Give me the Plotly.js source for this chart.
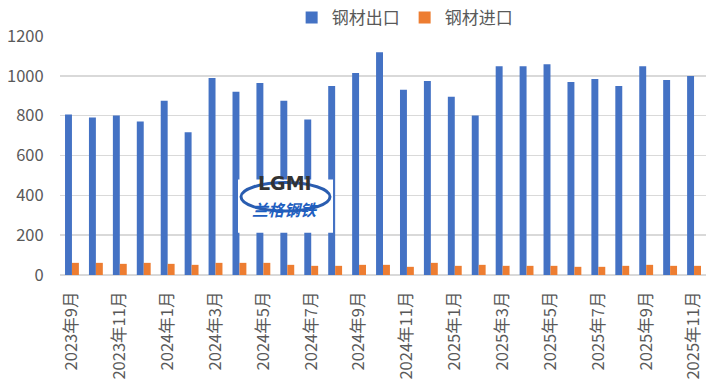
<!DOCTYPE html>
<html><head><meta charset="utf-8">
<script src="https://cdn.plot.ly/plotly-3.0.1.min.js"></script>
<style>html,body{margin:0;padding:0;background:#fff}#c{width:720px;height:387px}</style>
</head><body><div id="c"></div>
<script>
const months = ["2023年9月","2023年10月","2023年11月","2023年12月","2024年1月","2024年2月","2024年3月","2024年4月","2024年5月","2024年6月","2024年7月","2024年8月","2024年9月","2024年10月","2024年11月","2024年12月","2025年1月","2025年2月","2025年3月","2025年4月","2025年5月","2025年6月","2025年7月","2025年8月","2025年9月","2025年10月","2025年11月"];
const exportVals = [806,791,801,771,875,717,989,920,964,875,781,949,1014,1118,930,974,895,801,1048,1048,1058,969,984,949,1048,979,999];
const importVals = [61,61,56,61,56,51,61,61,61,51,46,46,51,51,41,61,46,51,46,46,46,41,41,46,51,46,46];
const tickLabels = ["2023年9月","2023年11月","2024年1月","2024年3月","2024年5月","2024年7月","2024年9月","2024年11月","2025年1月","2025年3月","2025年5月","2025年7月","2025年9月","2025年11月"];
const F = '"Noto Sans CJK SC", "Noto Sans", sans-serif';
const data = [
 {type:'bar', name:'钢材出口', x:months, y:exportVals, marker:{color:'#4472C4'}},
 {type:'bar', name:'钢材进口', x:months, y:importVals, marker:{color:'#ED7D31'}}
];
const L = 60, R = 14, T = 32, B = 112, PW = 720-L-R, PH = 387-T-B;
const px = v => (v-L)/PW, py = v => (387-B-v)/PH;
const layout = {
 width:720, height:387, margin:{l:L,r:R,t:T,b:B},
 paper_bgcolor:'#fff', plot_bgcolor:'#fff',
 font:{family:F, color:'#595959', size:16},
 barmode:'group', bargap:0.42, bargroupgap:0,
 showlegend:true,
 legend:{orientation:'h', xref:'container', yref:'container', x:0.562, xanchor:'center', y:1, yanchor:'top', font:{size:17,color:'#595959'}, itemwidth:20, traceorder:'normal', bgcolor:'rgba(0,0,0,0)'},
 xaxis:{type:'category', tickmode:'array', tickvals:tickLabels, ticktext:tickLabels, tickangle:-90, tickfont:{size:16.5,color:'#595959'}, showgrid:false, showline:false, ticks:'outside', ticklen:9, tickcolor:'rgba(0,0,0,0)', automargin:false},
 yaxis:{range:[0,1200], dtick:200, tickfont:{size:16.5,color:'#595959'}, gridcolor:'#d9d9d9', gridwidth:1.5, zeroline:true, zerolinecolor:'#d9d9d9', zerolinewidth:2, ticks:'outside', ticklen:12, tickcolor:'rgba(0,0,0,0)', automargin:false},
 shapes:[
  {type:'rect', xref:'paper', yref:'paper', x0:px(238), x1:px(333), y0:py(232), y1:py(178), fillcolor:'#ffffff', line:{width:0}, layer:'above'},
  {type:'circle', xref:'paper', yref:'paper', x0:px(241), x1:px(330), y0:py(210), y1:py(181), fillcolor:'rgba(0,0,0,0)', line:{width:3,color:'#2a5db0'}, layer:'above'}
 ],
 annotations:[
  {xref:'paper', yref:'paper', x:px(285), y:py(195), text:'<b>LGMI</b>', showarrow:false, font:{family:'"DejaVu Sans", sans-serif', size:19, color:'#333333'}},
  {xref:'paper', yref:'paper', x:px(285), y:py(222), text:'<b><i>兰格钢铁</i></b>', showarrow:false, font:{family:F, size:16, color:'#1f5fc0'}}
 ]
};
Plotly.newPlot('c', data, layout, {displayModeBar:false, staticPlot:true});
</script></body></html>
